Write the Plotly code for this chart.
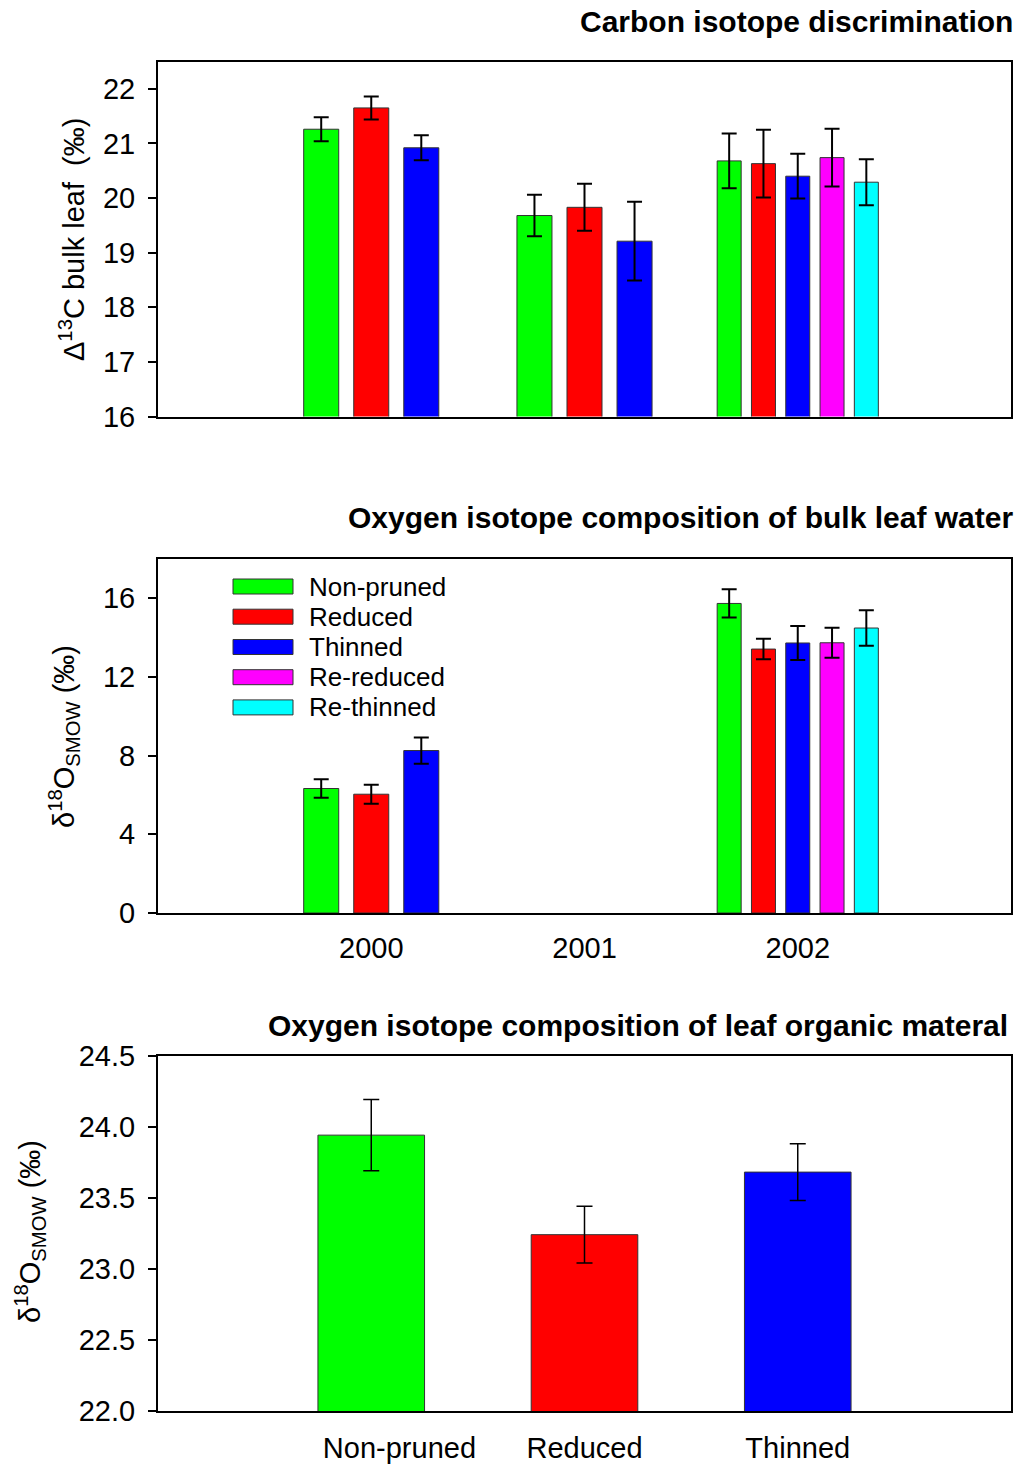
import plotly.graph_objects as go

# ---------------- data ----------------
YEARS = [2000, 2001, 2002]
SERIES = ["Non-pruned", "Reduced", "Thinned", "Re-reduced", "Re-thinned"]
COLORS = ["#00ff00", "#ff0000", "#0000ff", "#ff00ff", "#00ffff"]

# Carbon isotope discrimination (per mil), by series, per year
C13_MEAN = {
    "Non-pruned": [21.26, 19.68, 20.68],
    "Reduced":    [21.65, 19.83, 20.63],
    "Thinned":    [20.92, 19.21, 20.40],
    "Re-reduced": [None, None, 20.74],
    "Re-thinned": [None, None, 20.29],
}
C13_ERR = {
    "Non-pruned": [0.22, 0.38, 0.50],
    "Reduced":    [0.21, 0.43, 0.62],
    "Thinned":    [0.23, 0.72, 0.41],
    "Re-reduced": [None, None, 0.53],
    "Re-thinned": [None, None, 0.42],
}

# Oxygen isotope composition of bulk leaf water
O18W_MEAN = {
    "Non-pruned": [6.33, None, 15.74],
    "Reduced":    [6.04, None, 13.42],
    "Thinned":    [8.26, None, 13.73],
    "Re-reduced": [None, None, 13.74],
    "Re-thinned": [None, None, 14.49],
}
O18W_ERR = {
    "Non-pruned": [0.47, None, 0.72],
    "Reduced":    [0.48, None, 0.52],
    "Thinned":    [0.67, None, 0.86],
    "Re-reduced": [None, None, 0.76],
    "Re-thinned": [None, None, 0.90],
}

# Oxygen isotope composition of leaf organic material
ORG_CATS = ["Non-pruned", "Reduced", "Thinned"]
ORG_MEAN = [23.94, 23.24, 23.68]
ORG_ERR = [0.25, 0.20, 0.20]
ORG_TICKTEXT = ["\u00a0" * 7 + "Non-pruned", "Reduced", "Thinned"]

# ---------------- styling ----------------
W, H = 1019, 1466
FONT = "Arial, Liberation Sans, sans-serif"
GROUP_W = {3: 0.704, 5: 0.804}
BAR_FRAC = 0.70


def px(x):
    return x / W


def py(y):
    return 1 - y / H


def group_geometry(table):
    offsets = {s: [] for s in SERIES}
    widths = {s: [] for s in SERIES}
    for j in range(len(YEARS)):
        present = [s for s in SERIES if table[s][j] is not None]
        n = len(present)
        gw = GROUP_W.get(n, 0.8)
        slot = gw / max(n, 1)
        bw = slot * BAR_FRAC
        for s in SERIES:
            if s in present:
                r = present.index(s)
                offsets[s].append(-gw / 2 + r * slot + (slot - bw) / 2)
            else:
                offsets[s].append(0)
            widths[s].append(bw)
    return offsets, widths


fig = go.Figure()

for table, err, xa, ya in [(C13_MEAN, C13_ERR, "x", "y"), (O18W_MEAN, O18W_ERR, "x2", "y2")]:
    offs, wids = group_geometry(table)
    for s, c in zip(SERIES, COLORS):
        fig.add_trace(go.Bar(
            x=YEARS, y=table[s], name=s, xaxis=xa, yaxis=ya,
            offset=offs[s], width=wids[s],
            marker=dict(color=c, line=dict(color="#333333", width=1)),
            error_y=dict(type="data", array=err[s], visible=True,
                         color="black", thickness=2, width=7.5),
            showlegend=False,
        ))

fig.add_trace(go.Bar(
    x=ORG_CATS, y=ORG_MEAN, xaxis="x3", yaxis="y3", width=0.5,
    marker=dict(color=COLORS[:3], line=dict(color="#333333", width=1)),
    error_y=dict(type="data", array=ORG_ERR, visible=True,
                 color="black", thickness=1.5, width=8),
    showlegend=False,
))

xdom = [px(158), px(1011)]
axis_common = dict(showline=True, linecolor="black", linewidth=2, mirror=True,
                   showgrid=False, zeroline=False, automargin=False,
                   tickfont=dict(family=FONT, size=29, color="black"))
yax = dict(axis_common, ticks="outside", ticklen=8, tickwidth=2, tickcolor="black",
           ticklabelstandoff=7)

fig.update_layout(
    width=W, height=H,
    margin=dict(l=0, r=0, t=0, b=0, pad=0),
    paper_bgcolor="white", plot_bgcolor="white",
    barmode="overlay",
    font=dict(family=FONT, color="black"),
    showlegend=False,
    xaxis=dict(axis_common, domain=xdom, range=[1999, 2003], anchor="y",
               showticklabels=False, ticks=""),
    yaxis=dict(yax, domain=[py(416.5), py(61.5)], range=[16, 22.5], anchor="x",
               tickvals=[16, 17, 18, 19, 20, 21, 22]),
    xaxis2=dict(axis_common, domain=xdom, range=[1999, 2003], anchor="y2",
                tickvals=YEARS, ticktext=[str(y) for y in YEARS], ticks="",
                ticklabelstandoff=8),
    yaxis2=dict(yax, domain=[py(913), py(559)], range=[0, 18], anchor="x2",
                tickvals=[0, 4, 8, 12, 16]),
    xaxis3=dict(axis_common, domain=xdom, range=[-1, 3], anchor="y3", type="category",
                tickvals=ORG_CATS, ticktext=ORG_TICKTEXT, ticks="",
                ticklabelstandoff=10),
    yaxis3=dict(yax, domain=[py(1411), py(1055.5)], range=[22, 24.5], anchor="x3",
                tickvals=[22.0, 22.5, 23.0, 23.5, 24.0, 24.5], tickformat=".1f"),
)

annotations = []
title_font = dict(family=FONT, size=30, color="black")
for text, xr, yc in [("<b>Carbon isotope discrimination</b>", 1015, 22),
                     ("<b>Oxygen isotope composition of bulk leaf water</b>", 1015, 518),
                     ("<b>Oxygen isotope composition of leaf organic materal</b>", 1010, 1025)]:
    annotations.append(dict(text=text, x=px(xr), y=py(yc), xref="paper", yref="paper",
                            xanchor="right", yanchor="middle", showarrow=False,
                            font=title_font))

ytitle_font = dict(family=FONT, size=29, color="black")
for text, xc, yc in [("Δ<sup>13</sup>C bulk leaf\u00a0\u00a0(‰)", 72, 240),
                     ("δ<sup>18</sup>O<sub>SMOW</sub> (‰)", 64, 736),
                     ("δ<sup>18</sup>O<sub>SMOW</sub> (‰)", 30, 1232)]:
    annotations.append(dict(text=text, x=px(xc), y=py(yc), xref="paper", yref="paper",
                            xanchor="center", yanchor="middle", showarrow=False,
                            textangle=-90, font=ytitle_font))

# legend (inside middle panel)
shapes = []
leg_y = [586.5, 616.7, 647.0, 677.2, 707.4]
for s, c, yc in zip(SERIES, COLORS, leg_y):
    shapes.append(dict(type="rect", xref="paper", yref="paper",
                       x0=px(233), x1=px(293), y0=py(yc + 7.5), y1=py(yc - 7.5),
                       fillcolor=c, line=dict(color="#333333", width=1)))
    annotations.append(dict(text=s, x=px(307), y=py(yc), xref="paper", yref="paper",
                            xanchor="left", yanchor="middle", showarrow=False,
                            font=dict(family=FONT, size=26, color="black")))

fig.update_layout(annotations=annotations, shapes=shapes)

fig.write_html(
    "out.html",
    config={"displayModeBar": False},
    post_script="document.body.style.margin='0';document.body.style.overflow='hidden';",
)
